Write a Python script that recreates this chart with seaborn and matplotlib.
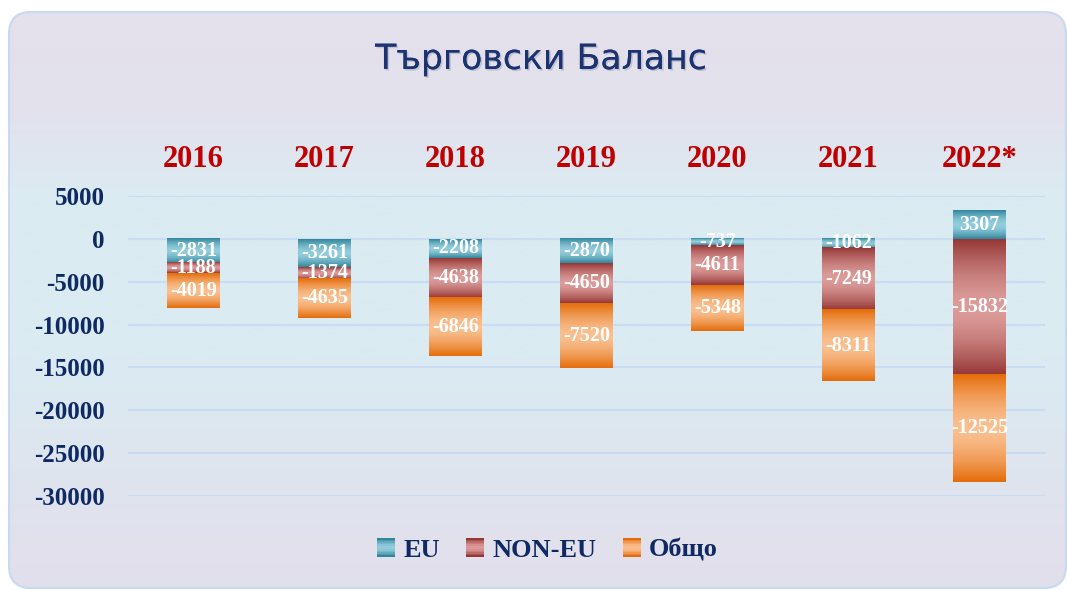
import numpy as np
import matplotlib
matplotlib.use("Agg")
import matplotlib.pyplot as plt
import matplotlib.patheffects as pe
import seaborn as sns
from matplotlib.colors import to_rgb
from matplotlib.patches import FancyBboxPatch, Rectangle
from matplotlib.legend_handler import HandlerBase

# ---- data ----
years = ["2016", "2017", "2018", "2019", "2020", "2021", "2022*"]
eu = [-2831, -3261, -2208, -2870, -737, -1062, 3307]
non_eu = [-1188, -1374, -4638, -4650, -4611, -7249, -15832]
total = [-4019, -4635, -6846, -7520, -5348, -8311, -12525]
series_names = ["EU", "NON-EU", "Общо"]
y_ticks = [5000, 0, -5000, -10000, -15000, -20000, -25000, -30000]

# dark edge / light middle of each bar gradient
grad_colors = {
    "EU": ("#31859c", "#93cddd"),
    "NON-EU": ("#953735", "#dc9c9a"),
    "Общо": ("#e46c0a", "#fac090"),
}

NAVY = "#0f2a62"
SERIF = "Liberation Serif"

sns.set_style("white")
plt.rcParams["axes.unicode_minus"] = False


def gradient(dark, light, n=128):
    u = np.linspace(0, 1, n)
    t = np.abs(2 * u - 1) ** 1.6
    d, l = np.array(to_rgb(dark)), np.array(to_rgb(light))
    return l[None, :] + (d - l)[None, :] * t[:, None]


class GradientHandler(HandlerBase):
    def __init__(self, dark, light):
        super().__init__()
        self.dark, self.light = dark, light

    def create_artists(self, legend, orig_handle, xdescent, ydescent,
                       width, height, fontsize, trans):
        cols = gradient(self.dark, self.light, 12)
        side = height
        x0 = -xdescent + (width - side) / 2
        y0 = -ydescent
        step = side / len(cols)
        arts = []
        for i, c in enumerate(cols):
            arts.append(Rectangle((x0, y0 + i * step), side, step * 1.05,
                                  facecolor=c, edgecolor="none", transform=trans))
        return arts


fig = plt.figure(figsize=(10.67, 5.90), dpi=100)

# ---- rounded gradient background ----
bg = fig.add_axes([0, 0, 1, 1], zorder=-10)
bg.set_xlim(0, 1067)
bg.set_ylim(590, 0)
bg.axis("off")
frame = FancyBboxPatch((9, 12), 1057, 576, boxstyle="round,pad=0,rounding_size=22",
                       facecolor="none", edgecolor="#c8daf0", lw=1.5, zorder=2)
bg.add_patch(frame)
stops_y = [0.0, 0.18, 0.32, 0.6, 0.82, 1.0]
stops_c = ["#e5e0ec", "#e2e2ed", "#dcebf2", "#dbebf3", "#dfe4ee", "#e3dfec"]
yy = np.linspace(0, 1, 300)
bg_grad = np.stack([np.interp(yy, stops_y, [to_rgb(c)[k] for c in stops_c])
                    for k in range(3)], axis=1)
img = bg.imshow(bg_grad[:, None, :], extent=[9, 1066, 588, 12], aspect="auto",
                interpolation="bilinear", zorder=1)
img.set_clip_path(frame)

fig.text(0.507, 0.9, "Търговски Баланс", ha="center", va="center",
         fontsize=25, color="#1c3372", family="DejaVu Sans",
         path_effects=[pe.withSimplePatchShadow(offset=(1.2, -1.2),
                                                shadow_rgbFace="#8a8a9a", alpha=0.35),
                       pe.Normal()])

# ---- chart ----
ax = fig.add_axes([128 / 1067, 1 - 496 / 590, 917 / 1067, 300 / 590])
ax.patch.set_alpha(0)

pos_base = np.zeros(len(years))
neg_base = np.zeros(len(years))
for name, vals in zip(series_names, [eu, non_eu, total]):
    vals = np.array(vals, dtype=float)
    bottom = np.where(vals >= 0, pos_base, neg_base)
    sns.barplot(x=years, y=vals, order=years, bottom=bottom, width=0.4,
                color=grad_colors[name][1], errorbar=None, ax=ax, zorder=2,
                linewidth=0, edgecolor="none")
    dark, light = grad_colors[name]
    g = gradient(dark, light)
    for rect, v, b in zip(ax.containers[-1], vals, bottom):
        x0, w = rect.get_x(), rect.get_width()
        ax.imshow(g[:, None, :], extent=[x0, x0 + w, b, b + v], aspect="auto",
                  interpolation="bilinear", zorder=3)
        rect.set_facecolor("none")
        rect.set_edgecolor("none")
        ax.text(x0 + w / 2, b + v / 2, f"{int(v)}", ha="center", va="center",
                color="white", fontsize=14.5, fontweight="bold", family=SERIF, zorder=5)
    pos_base = np.where(vals >= 0, pos_base + vals, pos_base)
    neg_base = np.where(vals < 0, neg_base + vals, neg_base)

ax.set_xlim(-0.5, len(years) - 0.5)
ax.set_ylim(-30000, 5000)
ax.set_yticks(y_ticks)
ax.set_yticklabels([str(t) for t in y_ticks])
ax.yaxis.grid(True, color="#cadcf1", lw=1.6)
ax.set_axisbelow(True)
for s in ax.spines.values():
    s.set_visible(False)
ax.xaxis.tick_top()
ax.set_xlabel("")
ax.set_ylabel("")
ax.tick_params(axis="x", length=0, pad=16)
ax.tick_params(axis="y", length=0, pad=17)
for lab in ax.get_xticklabels():
    lab.set_fontfamily(SERIF)
    lab.set_fontweight("bold")
    lab.set_fontsize(22)
    lab.set_color("#c00000")
for lab in ax.get_yticklabels():
    lab.set_fontfamily(SERIF)
    lab.set_fontweight("bold")
    lab.set_fontsize(18)
    lab.set_color(NAVY)

# ---- legend ----
handles = [Rectangle((0, 0), 1, 1) for _ in series_names]
hmap = {h: GradientHandler(*grad_colors[n]) for h, n in zip(handles, series_names)}
leg = fig.legend(handles, series_names, handler_map=hmap, loc="center",
                 bbox_to_anchor=(0.513, 1 - 550 / 590), ncol=3, frameon=False,
                 handlelength=0.7, handleheight=0.7, handletextpad=0.3,
                 columnspacing=1.0, prop={"family": SERIF, "weight": "bold", "size": 19})
for t in leg.get_texts():
    t.set_color(NAVY)

fig.savefig("out.png", dpi=100)
